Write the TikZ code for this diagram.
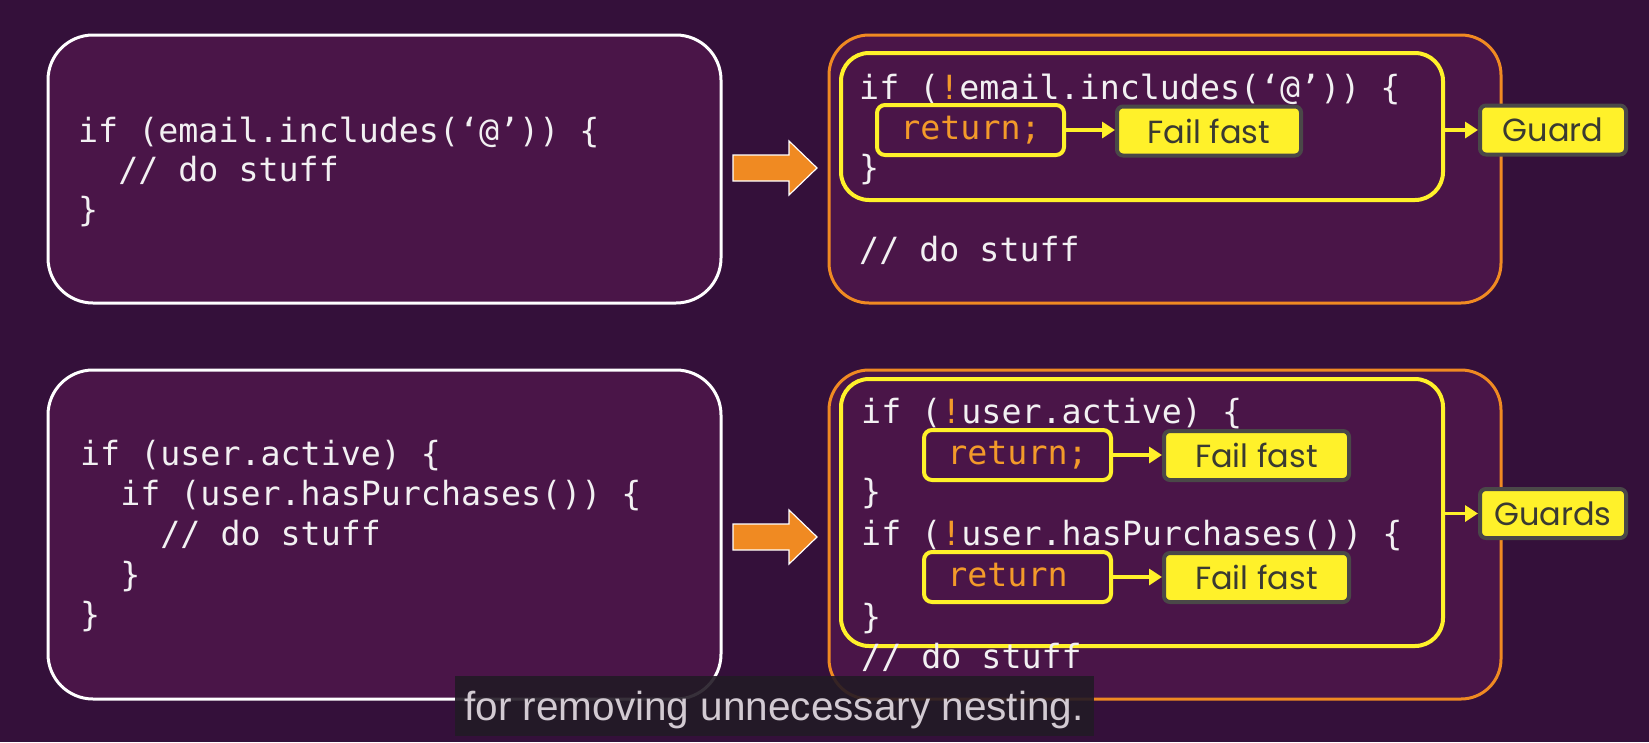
\documentclass[tikz,border=0pt]{standalone}
\usepackage{fontspec}
\newfontfamily\codefont{DejaVu Sans Mono}
\newfontfamily\lblfont{Poppins}
\newfontfamily\capfont{Liberation Sans}
\usetikzlibrary{arrows.meta}
\definecolor{bgc}{HTML}{34103A}
\definecolor{boxc}{HTML}{4A1548}
\definecolor{orng}{HTML}{F08A22}
\definecolor{ylw}{HTML}{FFF12A}
\definecolor{lblborder}{HTML}{4A4848}
\definecolor{lbltext}{HTML}{3A3A32}
\definecolor{codeorange}{HTML}{F39A2A}
\definecolor{codewhite}{HTML}{F2F0F2}
\definecolor{capbg}{HTML}{221A25}
\definecolor{captext}{HTML}{D2CAD2}
\newcommand{\bang}{{\color{codeorange}!}}
\begin{document}
\begin{tikzpicture}[x=1pt,y=-1pt,
  whitebox/.style={draw=white, line width=3pt, fill=boxc, rounded corners=45pt, inner sep=0pt},
  orangebox/.style={draw=orng, line width=3pt, fill=boxc, rounded corners=40pt, inner sep=0pt},
  ybox/.style={draw=ylw, line width=4pt, rounded corners=28pt, inner sep=0pt},
  code/.style={font=\codefont\fontsize{33.3}{40}\selectfont, text=codewhite, anchor=base west, inner sep=0pt},
  retbox/.style={draw=ylw, line width=4pt, rounded corners=8pt, minimum width=187pt, minimum height=50pt, inner sep=0pt,
    font=\codefont\fontsize{33.3}{40}\selectfont, text=codeorange},
  lbl/.style={fill=ylw, draw=lblborder, line width=4pt, rounded corners=6pt, inner sep=0pt,
    font=\lblfont\fontsize{32}{38}\selectfont, text=lbltext, minimum height=49pt},
  yarrow/.style={draw=ylw, line width=3.5pt, -{Triangle[length=13pt,width=16pt]}},
  blockarrow/.style={fill=orng, draw=white, line width=1.2pt, line join=miter}
]
\fill[bgc] (0,0) rectangle (1649,742);
\useasboundingbox (0,0) rectangle (1649,742);

% left boxes
\node[whitebox, minimum width=673pt, minimum height=268pt] (w1) at (384.5,169) {};
\node[whitebox, minimum width=673pt, minimum height=329pt] (w2) at (384.5,534.5) {};
% right boxes
\node[orangebox, minimum width=672pt, minimum height=268pt] (o1) at (1165,169) {};
\node[orangebox, minimum width=672pt, minimum height=329pt] (o2) at (1165,534.5) {};
\node[ybox, minimum width=602pt, minimum height=147pt] (y1) at (1142,126.5) {};
\node[ybox, minimum width=602pt, minimum height=267pt] (y2) at (1142,512.5) {};

% left code top
\node[code] (la1) at (78,142) {if (email.includes(‘@’)) \{};
\node[code] (la2) at (78,181) {\phantom{xx}// do stuff};
\node[code] (la3) at (78,221) {\}};
% left code bottom
\node[code] (lb1) at (80,465) {if (user.active) \{};
\node[code] (lb2) at (80,505) {\phantom{xx}if (user.hasPurchases()) \{};
\node[code] (lb3) at (80,545) {\phantom{xxxx}// do stuff};
\node[code] (lb4) at (80,586) {\phantom{xx}\}};
\node[code] (lb5) at (80,626) {\}};

% right code top
\node[code] (ra1) at (859,99) {if (\bang email.includes(‘@’)) \{};
\node[retbox] (r1) at (970.5,130) {return;};
\node[code] (ra3) at (859,179) {\}};
\node[code] (ra4) at (859,261) {// do stuff};

% right code bottom
\node[code] (rb1) at (861,423) {if (\bang user.active) \{};
\node[retbox] (r2) at (1017.5,455) {return;};
\node[code] (rb3) at (861,503) {\}};
\node[code] (rb4) at (861,545) {if (\bang user.hasPurchases()) \{};
\node[retbox] (r3) at (1017.5,577) {return\phantom{;}};
\node[code] (rb6) at (861,628) {\}};
\node[code] (rb7) at (861,668) {// do stuff};

% labels
\node[lbl, minimum width=184pt] (f1) at (1209,131) {Fail fast};
\node[lbl, minimum width=146pt] (g1) at (1553,130) {Guard};
\node[lbl, minimum width=185pt] (f2) at (1256.5,455.5) {Fail fast};
\node[lbl, minimum width=185pt] (f3) at (1256.5,577.5) {Fail fast};
\node[lbl, minimum width=146pt] (g2) at (1553,513.5) {Guards};

% yellow arrows
\draw[yarrow] (r1.east) -- (r1.east -| f1.west);
\draw[yarrow] (r2.east) -- (r2.east -| f2.west);
\draw[yarrow] (r3.east) -- (r3.east -| f3.west);
\draw[yarrow] (y1.east |- g1.west) -- (g1.west);
\draw[yarrow] (y2.east |- g2.west) -- (g2.west);

% orange block arrows
\foreach \cy in {168,537}{
  \draw[blockarrow] (733,\cy-13) -- (789,\cy-13) -- (789,\cy-27) -- (817,\cy)
    -- (789,\cy+27) -- (789,\cy+13) -- (733,\cy+13) -- cycle;
}

% caption
\node[fill=capbg, fill opacity=0.9, minimum width=639pt, minimum height=60pt, inner sep=0pt] (capbox) at (774.5,705.5) {};
\node[font=\capfont\fontsize{40.5}{48}\selectfont, text=captext, anchor=base, inner sep=0pt] (cap) at (774,720) {for removing unnecessary nesting.};
\end{tikzpicture}
\end{document}
